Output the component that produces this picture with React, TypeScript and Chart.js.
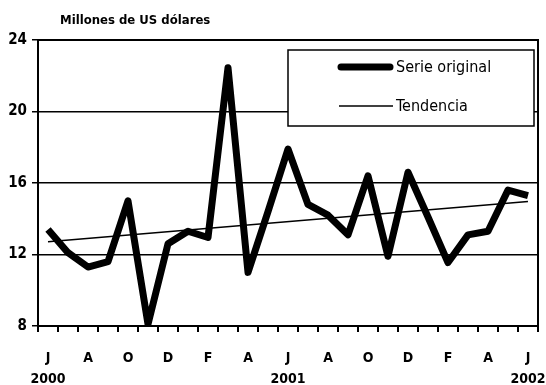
import React, { useEffect, useRef } from "react";
import { Chart, registerables } from "chart.js";

Chart.register(...registerables);

const months = [
  "Jun 2000", "Jul 2000", "Aug 2000", "Sep 2000", "Oct 2000", "Nov 2000", "Dec 2000",
  "Jan 2001", "Feb 2001", "Mar 2001", "Apr 2001", "May 2001", "Jun 2001", "Jul 2001",
  "Aug 2001", "Sep 2001", "Oct 2001", "Nov 2001", "Dec 2001", "Jan 2002", "Feb 2002",
  "Mar 2002", "Apr 2002", "May 2002", "Jun 2002",
];

const tickLabels: (string | string[])[] = [
  ["J", "2000"], "", "A", "", "O", "", "D", "", "F", "", "A", "",
  ["J", "2001"], "", "A", "", "O", "", "D", "", "F", "", "A", "", ["J", "2002"],
];

const serieOriginal = [
  13.4, 12.1, 11.3, 11.6, 15.0, 8.1, 12.6, 13.3, 12.95, 22.45, 11.0, 14.4, 17.9,
  14.8, 14.2, 13.1, 16.4, 11.9, 16.6, 14.1, 11.55, 13.1, 13.3, 15.6, 15.3,
];

const tendencia: (number | null)[] = [
  12.72, null, null, null, null, null, null, null, null, null, null, null, null,
  null, null, null, null, null, null, null, null, null, null, null, 14.96,
];

const yTicks = [8, 12, 16, 20, 24];
const titleText = "Millones de US dólares";

const FONT = '"Liberation Sans Narrow", "Arial Narrow", "DejaVu Sans Condensed", sans-serif';

const framePlugin = {
  id: "frameAndLegend",
  afterDraw(chart: any) {
    const { ctx, chartArea } = chart;
    ctx.save();
    ctx.strokeStyle = "#000";
    ctx.lineWidth = 2;
    ctx.beginPath();
    ctx.moveTo(chartArea.left, chartArea.top);
    ctx.lineTo(chartArea.right, chartArea.top);
    ctx.lineTo(chartArea.right, chartArea.bottom);
    ctx.stroke();
    ctx.fillStyle = "#000";
    ctx.font = `bold 13px ${FONT}`;
    ctx.textBaseline = "alphabetic";
    ctx.textAlign = "left";
    ctx.fillText(titleText, 60, 24);
    const bx = 288, by = 50, bw = 246, bh = 76;
    ctx.fillStyle = "#fff";
    ctx.fillRect(bx, by, bw, bh);
    ctx.lineWidth = 1.5;
    ctx.strokeStyle = "#000";
    ctx.strokeRect(bx, by, bw, bh);
    const items = chart.data.datasets;
    const rows = [67, 106];
    items.forEach((ds: any, i: number) => {
      const y = rows[i];
      ctx.beginPath();
      ctx.lineWidth = ds.borderWidth;
      ctx.lineCap = i === 0 ? "round" : "butt";
      ctx.strokeStyle = ds.borderColor;
      ctx.moveTo(i === 0 ? 341 : 339, y);
      ctx.lineTo(i === 0 ? 390 : 393, y);
      ctx.stroke();
      ctx.fillStyle = "#000";
      ctx.font = `16px ${FONT}`;
      ctx.textBaseline = "middle";
      ctx.fillText(ds.label, 396, y + 1);
    });
    ctx.restore();
  },
};

export default function App() {
  const ref = useRef<HTMLCanvasElement>(null);
  useEffect(() => {
    document.body.style.margin = "0";
    const chart = new Chart(ref.current!, {
      type: "line",
      data: {
        labels: months,
        datasets: [
          {
            label: "Serie original",
            data: serieOriginal,
            borderColor: "#000",
            borderWidth: 7,
            pointRadius: 0,
            borderJoinStyle: "round",
            borderCapStyle: "butt",
            tension: 0,
          },
          {
            label: "Tendencia",
            data: tendencia,
            borderColor: "#000",
            borderWidth: 1.5,
            pointRadius: 0,
            spanGaps: true,
            tension: 0,
          },
        ],
      },
      options: {
        animation: false,
        responsive: false,
        events: [],
        layout: { padding: { left: 0, right: 8, top: 40, bottom: 0 } },
        plugins: { legend: { display: false }, title: { display: false }, tooltip: { enabled: false } },
        scales: {
          x: {
            type: "category",
            offset: true,
            grid: {
              offset: true,
              drawOnChartArea: false,
              drawTicks: true,
              tickLength: 6,
              color: "#000",
              lineWidth: 2,
            },
            border: { display: true, color: "#000", width: 2 },
            ticks: {
              autoSkip: false,
              maxRotation: 0,
              padding: 16,
              color: "#000",
              font: { family: FONT, size: 14, weight: "bold", lineHeight: 1.5 },
              callback: (_v: any, i: number) => tickLabels[i],
            },
            afterFit: (s: any) => { s.height = 59; s.paddingLeft = 0; s.paddingRight = 0; },
          },
          y: {
            min: 8,
            max: 24,
            afterBuildTicks: (s: any) => { s.ticks = yTicks.map((v) => ({ value: v })); },
            grid: { color: "#000", lineWidth: 1.5, tickLength: 6, drawTicks: true },
            border: { display: true, color: "#000", width: 2 },
            ticks: {
              color: "#000",
              padding: 5,
              font: { family: FONT, size: 15, weight: "bold" },
            },
            afterFit: (s: any) => { s.width = 38; s.paddingTop = 0; s.paddingBottom = 0; },
          },
        },
      },
      plugins: [framePlugin],
    });
    return () => chart.destroy();
  }, []);
  return (
    <div style={{ width: 546, height: 385 }}>
      <canvas ref={ref} width={546} height={385} style={{ display: "block" }} />
    </div>
  );
}
